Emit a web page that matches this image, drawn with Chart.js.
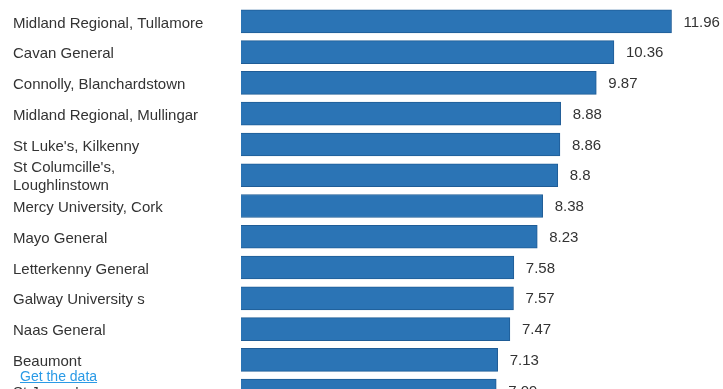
<!DOCTYPE html>
<html>
<head>
<meta charset="utf-8">
<script src="https://cdn.jsdelivr.net/npm/chart.js@4/dist/chart.umd.min.js"></script>
<style>
    html, body { margin: 0; padding: 0; background: #fff; overflow: hidden; }
    body { width: 723px; height: 389px; position: relative; }
    #wrap { position: absolute; left: 0; top: -3px; width: 723px; height: 418px; }
    #getData {
        position: absolute; left: 20px; top: 368px;
        font: 14px "Liberation Sans", Arial, sans-serif;
        color: #2a9ae6; text-decoration: underline;
    }
</style>
</head>
<body>
<div id="wrap"><canvas id="hospChart"></canvas></div>
<a id="getData" href="#">Get the data</a>
<script>
const hospitals = [
    'Midland Regional, Tullamore',
    'Cavan General',
    'Connolly, Blanchardstown',
    'Midland Regional, Mullingar',
    "St Luke's, Kilkenny",
    ["St Columcille's,", 'Loughlinstown'],
    'Mercy University, Cork',
    'Mayo General',
    'Letterkenny General',
    'Galway University s',
    'Naas General',
    'Beaumont',
    "St James's"
];
const values = [11.96, 10.36, 9.87, 8.88, 8.86, 8.8, 8.38, 8.23, 7.58, 7.57, 7.47, 7.13, 7.09];
const valueLabels = ['11.96', '10.36', '9.87', '8.88', '8.86', '8.8', '8.38', '8.23', '7.58', '7.57', '7.47', '7.13', '7.09'];

const fontFamily = '"Liberation Sans", Arial, Helvetica, sans-serif';

// write the number just after the end of each bar
const valuePlugin = {
    id: 'valuePlugin',
    afterDatasetsDraw(chart) {
        const ctx = chart.ctx;
        const meta = chart.getDatasetMeta(0);
        ctx.save();
        ctx.font = '15px ' + fontFamily;
        ctx.fillStyle = '#333';
        ctx.textAlign = 'left';
        ctx.textBaseline = 'middle';
        meta.data.forEach((bar, i) => {
            ctx.fillText(valueLabels[i], bar.x + 12, bar.y + 1);
        });
        ctx.restore();
    }
};

const ctx = document.getElementById('hospChart').getContext('2d');
new Chart(ctx, {
    type: 'bar',
    data: {
        labels: hospitals,
        datasets: [{
            data: values,
            backgroundColor: '#2b74b5',
            borderColor: '#1f5c96',
            borderWidth: 1,
            barThickness: 23
        }]
    },
    options: {
        indexAxis: 'y',
        responsive: true,
        maintainAspectRatio: false,
        animation: false,
        layout: { padding: { left: 13, top: 0, right: 0, bottom: 0 } },
        plugins: {
            legend: { display: false },
            tooltip: { enabled: false }
        },
        scales: {
            x: {
                display: false,
                min: 0,
                max: 13.39
            },
            y: {
                grid: { display: false, drawTicks: false },
                border: { display: false },
                afterFit(scale) { scale.width = 228; },
                ticks: {
                    autoSkip: false,
                    crossAlign: 'far',
                    padding: 0,
                    labelOffset: 2,
                    color: '#333',
                    font: { size: 15, family: fontFamily, lineHeight: 1.2 }
                }
            }
        }
    },
    plugins: [valuePlugin]
});
</script>
</body>
</html>
